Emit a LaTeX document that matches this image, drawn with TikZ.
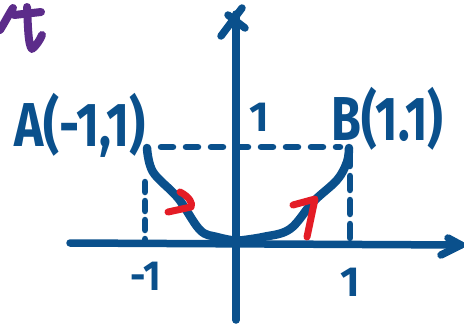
\documentclass[tikz,border=0pt]{standalone}
\usepackage{fontspec}
\setmainfont{Fira Sans}
\definecolor{ink}{RGB}{10,80,140}
\definecolor{redink}{RGB}{228,28,38}
\definecolor{purpink}{RGB}{92,44,138}
\begin{document}
\begin{tikzpicture}[x=1pt,y=-1pt,
  pen/.style={draw=ink,line width=7.5pt,line cap=round,line join=round},
  dashpen/.style={draw=ink,line width=6.5pt,line cap=round,dash pattern=on 12pt off 13pt},
  redpen/.style={draw=redink,line width=7pt,line cap=round,line join=round},
  lbl/.style={text=ink,inner sep=0pt,font=\fontsize{62}{62}\selectfont\bfseries},
  ticklbl/.style={text=ink,inner sep=0pt,font=\fontsize{42}{42}\selectfont\bfseries}]
\useasboundingbox (0,0) rectangle (464,325);
% purple partial letters
\draw[draw=purpink,line width=8pt,line cap=round,line join=round]
  (0,30) .. controls (5,22) and (9,14) .. (13,8);
\draw[draw=purpink,line width=8pt,line cap=round] (14,15) -- (41,12);
\draw[draw=purpink,line width=8pt,line cap=round,line join=round]
  (27,7) .. controls (28,25) and (28,45) .. (32,49) .. controls (36,46) and (40,40) .. (42,35);
% axes
\coordinate (xs) at (70,243); \coordinate (xe) at (461,245);
\coordinate (ys) at (236,320); \coordinate (ye) at (236,14);
\draw[pen] (xs) -- (xe);
\draw[pen] (ys) -- (ye);
\draw[pen] (448,238) -- (xe) -- (441,255);
\draw[pen] (221,36) -- (242,8);
\draw[pen] (228,15) -- (245,28);
% guides
\coordinate (A) at (147,148);
\coordinate (B) at (349,148);
\draw[dashpen,dash phase=-4pt] (157,147) -- (340,147);
\draw[dashpen,dash pattern=on 10pt off 9pt] (145,182) -- (145,243);
\draw[dashpen,dash pattern=on 14pt off 10pt] (350,152) -- (350,243);
% curve
\draw[pen,line width=8.5pt] plot[smooth,tension=0.6] coordinates
  {(A) (153,172) (178,198) (200,230) (217,237) (236,241)};
\draw[pen,line width=8.5pt] plot[smooth,tension=0.6] coordinates
  {(236,241) (263,237) (290,229) (313,202) (337,180) (347,162) (B)};
% red arrows
\draw[redpen] (180,192) .. controls (190,197) and (193,204) .. (191,207) -- (168,212);
\draw[redpen] (293,205) -- (315,199) -- (307,237);
% labels
\node[lbl,anchor=base west] (la) at (14,146) {\scalebox{0.8}[1]{A(-1,1)}};
\node[lbl,anchor=base west] (lb) at (331,140) {\scalebox{0.78}[1]{B(1.1)}};
\node[ticklbl,anchor=north] (lm) at (146,262) {\scalebox{0.9}[1]{-1}};
\node[ticklbl,anchor=north] (l1) at (350,268) {1};
\node[ticklbl,anchor=north] (ly) at (259,103) {1};
\end{tikzpicture}
\end{document}
